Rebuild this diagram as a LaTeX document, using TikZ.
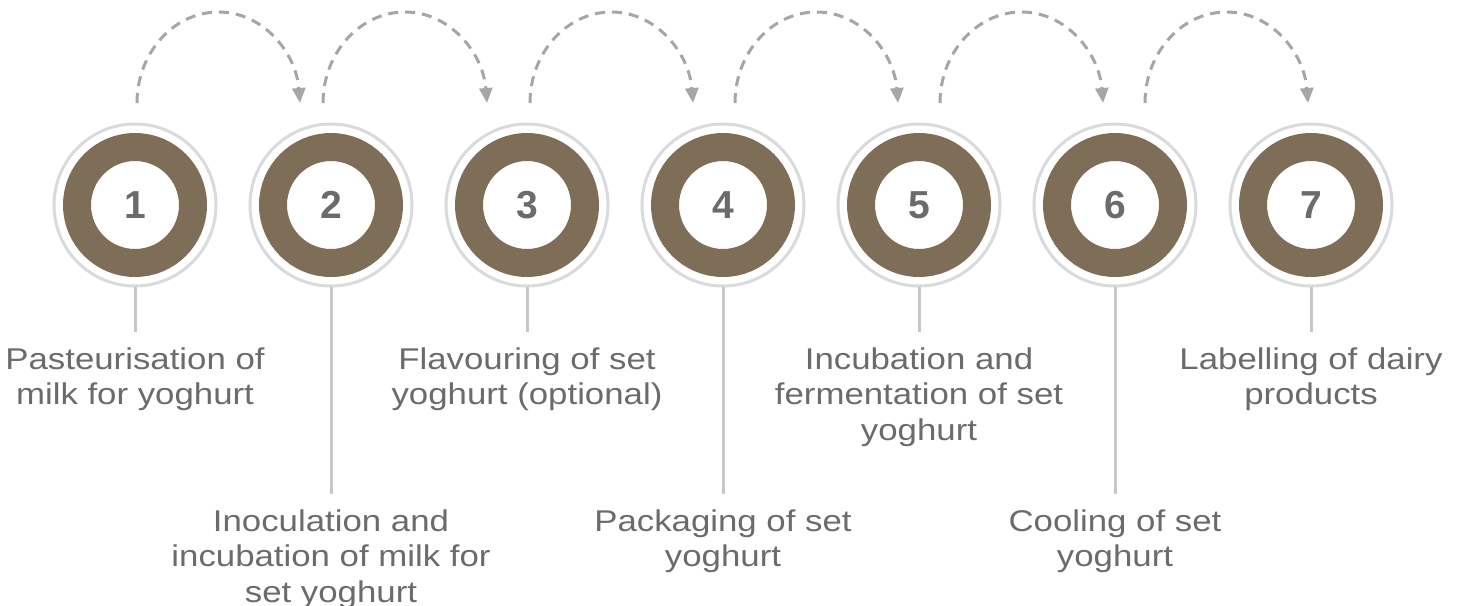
\documentclass[tikz,border=0pt]{standalone}
\usepackage{fontspec}
\setmainfont{Liberation Sans}
\newfontfamily\labelfont[FakeStretch=1.16]{Liberation Sans}
\usetikzlibrary{arrows.meta}

\definecolor{ringbrown}{HTML}{7F6E57}
\definecolor{ringgray}{HTML}{DADADA}
\definecolor{stemgray}{HTML}{C8C8C8}
\definecolor{hopgray}{HTML}{A6A6A6}
\definecolor{textgray}{HTML}{6B6B6B}

\begin{document}
\begin{tikzpicture}[x=0.5pt,y=-0.5pt,
  stepring/.style={circle, draw=ringbrown, line width=14pt, fill=white,
    minimum size=58pt, inner sep=0pt, outer sep=12pt, text=textgray,
    font=\fontsize{19.5}{20}\selectfont\bfseries},
  steplabel/.style={anchor=north, align=center, text=textgray,
    inner xsep=0pt, inner ysep=7.5pt, font=\labelfont\fontsize{15}{17.8}\selectfont},
  stem/.style={stemgray, line width=1.5pt},
  hop/.style={hopgray, line width=1.5pt, dash pattern=on 5pt off 3.5pt,
    -{Triangle[length=7.5pt,width=6.5pt]}}]

\useasboundingbox (0,0) rectangle (1471,605);

% RINGS
  \foreach \i/\x in {1/135, 2/331, 3/527, 4/723, 5/919, 6/1115, 7/1311}
  {
    \node[stepring] (s\i) at (\x,205) {\i};
    \draw[ringgray, line width=1.5pt] (s\i.center) circle (81);
  }

% LABELS
  \node[steplabel] (l1) at (135,332) {Pasteurisation of\\milk for yoghurt};
  \node[steplabel] (l2) at (331,494) {Inoculation and\\incubation of milk for\\set yoghurt};
  \node[steplabel] (l3) at (527,332) {Flavouring of set\\yoghurt (optional)};
  \node[steplabel] (l4) at (723,494) {Packaging of set\\yoghurt};
  \node[steplabel] (l5) at (919,332) {Incubation and\\fermentation of set\\yoghurt};
  \node[steplabel] (l6) at (1115,494) {Cooling of set\\yoghurt};
  \node[steplabel] (l7) at (1311,332) {Labelling of dairy\\products};

  \foreach \i in {1,...,7}
    \draw[stem] (s\i.south) -- (l\i.north);

% DASHED HOPS
  \foreach \i/\a/\b in {1/137/300, 2/323/487, 3/530/693, 4/735/898, 5/940/1103, 6/1145/1308}
  {
    \coordinate (h\i a) at (\a,103);
    \coordinate (h\i t) at ({(\a+\b)/2},12);
    \coordinate (h\i b) at (\b,103);
    \draw[hop] (h\i a) .. controls +(0,-50) and +(-45,0) .. (h\i t)
                       .. controls +(45,0) and +(-4,-50) .. (h\i b);
  }
\end{tikzpicture}
\end{document}
